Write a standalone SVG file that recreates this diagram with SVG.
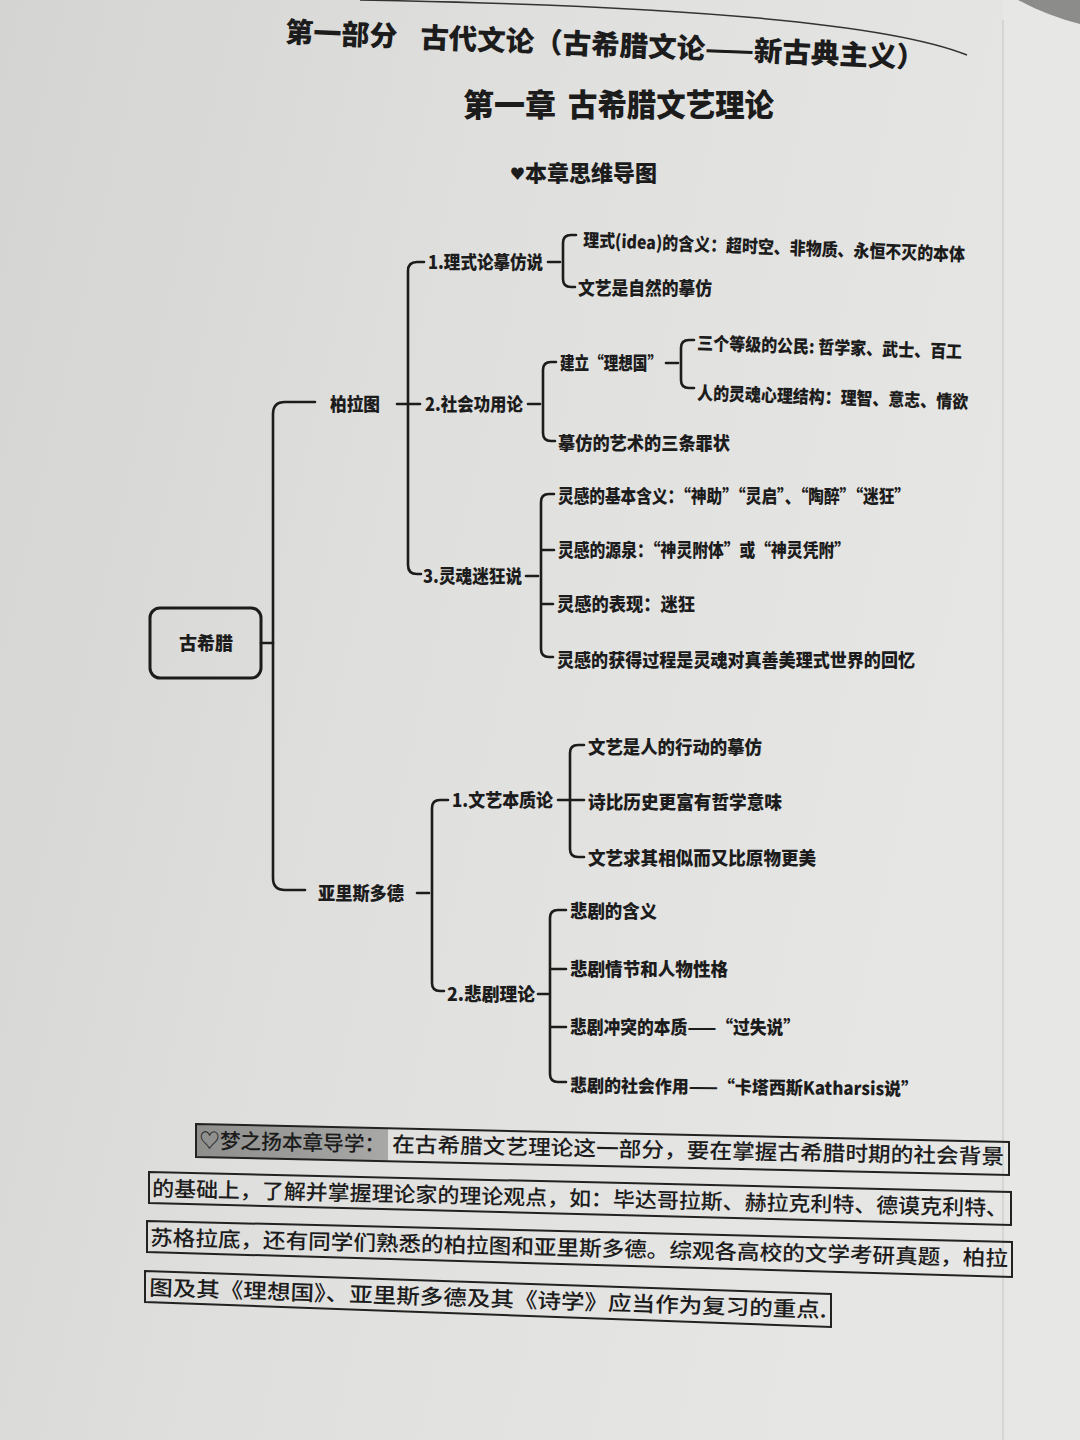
<svg xmlns="http://www.w3.org/2000/svg" width="1080" height="1440" viewBox="0 0 1080 1440">
<defs>
<linearGradient id="page" x1="0" y1="0" x2="1" y2="0.3">
<stop offset="0" stop-color="#d4d4d2"/>
<stop offset="0.5" stop-color="#e0e0de"/>
<stop offset="1" stop-color="#e6e6e4"/>
</linearGradient>
<linearGradient id="hl" x1="0" y1="0" x2="1" y2="0">
<stop offset="0" stop-color="#8e8e8c"/>
<stop offset="1" stop-color="#a8a8a6"/>
</linearGradient>
<style>
.t{font-family:"Noto Sans CJK SC","Noto Sans",sans-serif;font-weight:900;fill:#1c1c1c}
.m{font-size:18px}
.c{fill:none;stroke:#1c1c1c;stroke-width:2.6;stroke-linecap:round;stroke-linejoin:round}
.p{font-family:"Noto Sans CJK SC","DejaVu Sans",sans-serif;font-size:21px;font-weight:500;fill:#1c1c1c}
.b{fill:none;stroke:#222;stroke-width:2}
</style>
</defs>
<rect width="1080" height="1440" fill="url(#page)"/>
<rect x="1003" y="0" width="77" height="1440" fill="#e7e7e5"/>
<line x1="1003" y1="20" x2="1003" y2="1440" stroke="#cfcfcd" stroke-width="1.5"/>
<path d="M1018,0 H1080 V24 Q1048,16 1018,0 Z" fill="#8c8c8a"/>
<path d="M360,0 C650,5 880,20 967,55" fill="none" stroke="#333" stroke-width="1.5"/>

<g id="titles">
<g transform="rotate(2.3 285 42)">
<text class="t" x="285" y="42" font-size="28">第一部分</text>
<text class="t" x="420" y="42" font-size="28" textLength="505" lengthAdjust="spacingAndGlyphs">古代文论（古希腊文论——新古典主义）</text>
</g>
<text class="t" x="463" y="116" font-size="31">第一章</text>
<text class="t" x="568" y="116" font-size="31" textLength="206" lengthAdjust="spacingAndGlyphs">古希腊文艺理论</text>
<text class="t" x="510" y="181" font-size="22"><tspan font-size="15" dy="-2">♥</tspan><tspan dy="2">本章思维导图</tspan></text>
</g>

<g id="connectors">
<path class="c" d="M261,643 H273"/>
<path class="c" d="M315,402 H285 Q273,402 273,414 V878 Q273,890 285,890 H305"/>
<path class="c" d="M397,404 H420"/>
<path class="c" d="M424,262 H417 Q408,262 408,271 V565 Q408,574 417,574 H421"/>
<path class="c" d="M548,262 H560"/>
<path class="c" d="M576,235 H571 Q563,235 563,243 V279 Q563,287 571,287 H575"/>
<path class="c" d="M528,404 H540"/>
<path class="c" d="M556,362 H551 Q543,362 543,370 V433 Q543,441 551,441 H555"/>
<path class="c" d="M666,363 H678"/>
<path class="c" d="M694,340 H689 Q681,340 681,348 V380 Q681,388 689,388 H694"/>
<path class="c" d="M526,576 H538"/>
<path class="c" d="M554,494 H549 Q541,494 541,502 V649 Q541,657 549,657 H553 M541,550 H554 M541,604 H553"/>
<path class="c" d="M417,893 H429"/>
<path class="c" d="M448,800 H440 Q432,800 432,808 V983 Q432,991 440,991 H444"/>
<path class="c" d="M558,800 H584"/>
<path class="c" d="M584,745 H578 Q570,745 570,753 V849 Q570,857 578,857 H584"/>
<path class="c" d="M538,994 H548"/>
<path class="c" d="M566,910 H558 Q550,910 550,918 V1074 Q550,1082 558,1082 H566 M550,969 H566 M550,1027 H566"/>
</g>

<g id="root">
<rect x="150" y="608" width="111" height="70" rx="10" fill="none" stroke="#1c1c1c" stroke-width="3"/>
<text class="t m" x="206" y="650" text-anchor="middle">古希腊</text>
</g>
<g id="plato"><text class="t m" x="330" y="411" textLength="50" lengthAdjust="spacingAndGlyphs">柏拉图</text></g>
<g id="aristotle"><text class="t m" x="318" y="900" textLength="86" lengthAdjust="spacingAndGlyphs">亚里斯多德</text></g>

<g id="p1"><text class="t m" x="428" y="269" textLength="115" lengthAdjust="spacingAndGlyphs">1.理式论摹仿说</text></g>
<g id="p2"><text class="t m" x="425" y="411" textLength="98" lengthAdjust="spacingAndGlyphs">2.社会功用论</text></g>
<g id="p3"><text class="t m" x="423" y="583" textLength="99" lengthAdjust="spacingAndGlyphs">3.灵魂迷狂说</text></g>

<g id="p1a"><text class="t m" x="583" y="246.5" textLength="382" lengthAdjust="spacingAndGlyphs" transform="rotate(2.2 583 246.5)">理式(idea)的含义：超时空、非物质、永恒不灭的本体</text></g>
<g id="p1b"><text class="t m" x="578" y="295" textLength="134" lengthAdjust="spacingAndGlyphs">文艺是自然的摹仿</text></g>
<g id="p2a"><text class="t m" x="560" y="370" textLength="102" lengthAdjust="spacingAndGlyphs">建立“理想国”</text></g>
<g id="p2b"><text class="t m" x="558" y="450" textLength="172" lengthAdjust="spacingAndGlyphs">摹仿的艺术的三条罪状</text></g>
<g id="p2a1"><text class="t m" x="697" y="349.5" textLength="265" lengthAdjust="spacingAndGlyphs" transform="rotate(1.9 697 349.5)">三个等级的公民: 哲学家、武士、百工</text></g>
<g id="p2a2"><text class="t m" x="697" y="399.5" textLength="271" lengthAdjust="spacingAndGlyphs" transform="rotate(1.9 697 399.5)">人的灵魂心理结构：理智、意志、情欲</text></g>

<g id="p3a"><text class="t m" x="558" y="503" textLength="352" lengthAdjust="spacingAndGlyphs">灵感的基本含义：“神助”“灵启”、“陶醉”“迷狂”</text></g>
<g id="p3b"><text class="t m" x="558" y="557" textLength="292" lengthAdjust="spacingAndGlyphs">灵感的源泉：“神灵附体”或“神灵凭附”</text></g>
<g id="p3c"><text class="t m" x="557" y="611" textLength="138" lengthAdjust="spacingAndGlyphs">灵感的表现：迷狂</text></g>
<g id="p3d"><text class="t m" x="557" y="667" textLength="358" lengthAdjust="spacingAndGlyphs">灵感的获得过程是灵魂对真善美理式世界的回忆</text></g>

<g id="a1"><text class="t m" x="452" y="807" textLength="101" lengthAdjust="spacingAndGlyphs">1.文艺本质论</text></g>
<g id="a2"><text class="t m" x="447" y="1001" textLength="88" lengthAdjust="spacingAndGlyphs">2.悲剧理论</text></g>
<g id="a1a"><text class="t m" x="588" y="754" textLength="174" lengthAdjust="spacingAndGlyphs">文艺是人的行动的摹仿</text></g>
<g id="a1b"><text class="t m" x="588" y="809" textLength="194" lengthAdjust="spacingAndGlyphs">诗比历史更富有哲学意味</text></g>
<g id="a1c"><text class="t m" x="588" y="865" textLength="228" lengthAdjust="spacingAndGlyphs">文艺求其相似而又比原物更美</text></g>
<g id="a2a"><text class="t m" x="570" y="918" textLength="87" lengthAdjust="spacingAndGlyphs">悲剧的含义</text></g>
<g id="a2b"><text class="t m" x="570" y="976" textLength="158" lengthAdjust="spacingAndGlyphs">悲剧情节和人物性格</text></g>
<g id="a2c"><text class="t m" x="570" y="1034" textLength="230" lengthAdjust="spacingAndGlyphs">悲剧冲突的本质——“过失说”</text></g>
<g id="a2d"><text class="t m" x="570" y="1092" textLength="348" lengthAdjust="spacingAndGlyphs" transform="rotate(0.6 570 1092)">悲剧的社会作用——“卡塔西斯Katharsis说”</text></g>

<g id="guide">
<polygon points="196,1124 388,1128 388,1161 196,1157" fill="url(#hl)"/>
<polygon class="b" points="196,1124 1009,1142 1009,1175 196,1157"/>
<polygon class="b" points="149,1172 1011,1192 1011,1225 149,1203"/>
<polygon class="b" points="147,1221 1012,1242 1012,1277 147,1252"/>
<polygon class="b" points="145,1271 831,1294 831,1327 145,1302"/>
<g transform="rotate(1.15 199 1148)">
<text class="p" x="199" y="1148" font-size="22" textLength="186" lengthAdjust="spacingAndGlyphs">♡梦之扬本章导学：</text>
<text class="p" x="392" y="1148" textLength="612" lengthAdjust="spacingAndGlyphs">在古希腊文艺理论这一部分，要在掌握古希腊时期的社会背景</text>
</g>
<text class="p" x="152" y="1196" textLength="856" lengthAdjust="spacingAndGlyphs" transform="rotate(1.33 152 1196)">的基础上，了解并掌握理论家的理论观点，如：毕达哥拉斯、赫拉克利特、德谟克利特、</text>
<text class="p" x="150" y="1245" textLength="858" lengthAdjust="spacingAndGlyphs" transform="rotate(1.4 150 1245)">苏格拉底，还有同学们熟悉的柏拉图和亚里斯多德。综观各高校的文学考研真题，柏拉</text>
<text class="p" x="149" y="1295" textLength="678" lengthAdjust="spacingAndGlyphs" transform="rotate(1.9 149 1295)">图及其《理想国》、亚里斯多德及其《诗学》应当作为复习的重点.</text>
</g>
</svg>
